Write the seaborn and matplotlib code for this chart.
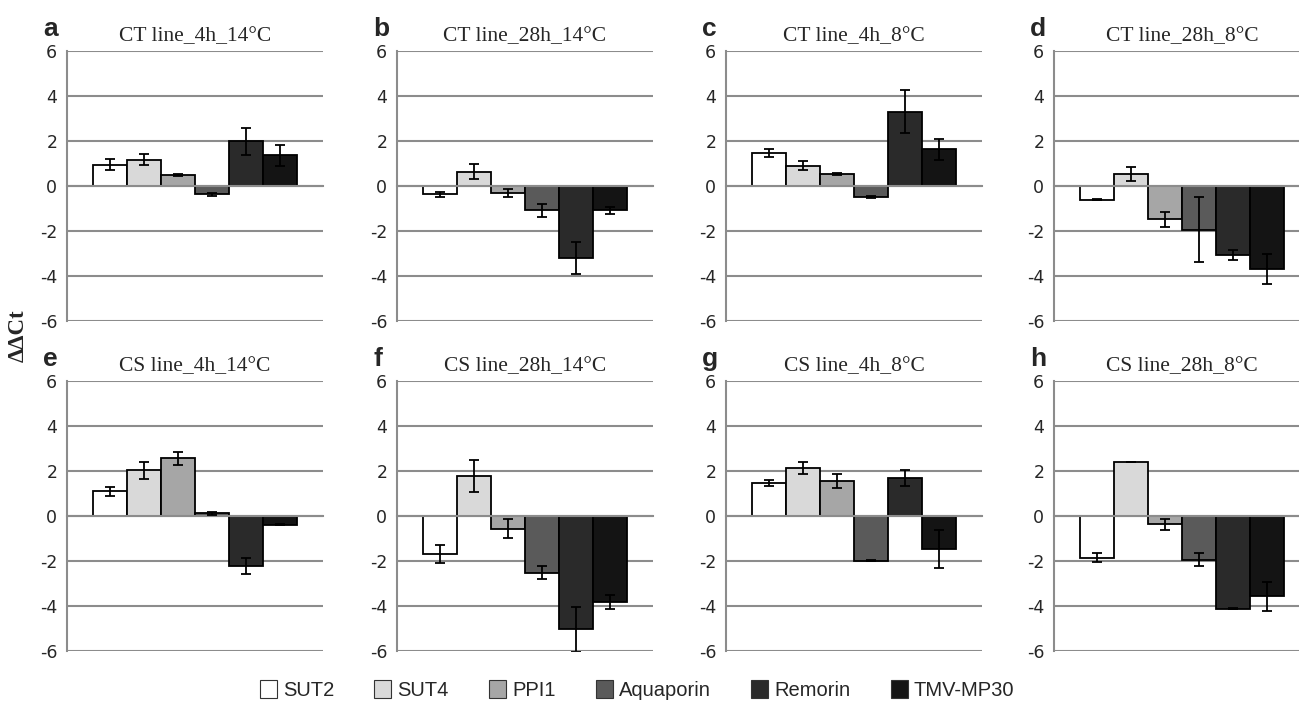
import numpy as np
import pandas as pd
import matplotlib
matplotlib.use("Agg")
import matplotlib.pyplot as plt
import seaborn as sns

# genes and colours
genes = ["SUT2", "SUT4", "PPI1", "Aquaporin", "Remorin", "TMV-MP30"]
gene_colors = ["#ffffff", "#d9d9d9", "#a6a6a6", "#5a5a5a", "#2a2a2a", "#141414"]

panel_letters = ["a", "b", "c", "d", "e", "f", "g", "h"]
panel_titles = ["CT line_4h_14°C", "CT line_28h_14°C", "CT line_4h_8°C", "CT line_28h_8°C",
                "CS line_4h_14°C", "CS line_28h_14°C", "CS line_4h_8°C", "CS line_28h_8°C"]

# ddCt means per panel (order of genes)
mean_a = [0.94, 1.17, 0.49, -0.37, 1.98, 1.37]
mean_b = [-0.37, 0.64, -0.33, -1.08, -3.20, -1.08]
mean_c = [1.45, 0.90, 0.52, -0.48, 3.30, 1.63]
mean_d = [-0.60, 0.54, -1.48, -1.94, -3.07, -3.68]
mean_e = [1.11, 2.04, 2.57, 0.13, -2.23, -0.39]
mean_f = [-1.70, 1.78, -0.56, -2.52, -5.04, -3.83]
mean_g = [1.47, 2.15, 1.55, -1.98, 1.69, -1.47]
mean_h = [-1.86, 2.40, -0.37, -1.95, -4.12, -3.57]

# error bars
err_a = [0.24, 0.25, 0.03, 0.07, 0.62, 0.46]
err_b = [0.11, 0.33, 0.18, 0.30, 0.71, 0.16]
err_c = [0.18, 0.20, 0.05, 0.04, 0.96, 0.46]
err_d = [0.04, 0.30, 0.34, 1.43, 0.22, 0.66]
err_e = [0.20, 0.38, 0.29, 0.07, 0.36, 0.02]
err_f = [0.40, 0.71, 0.42, 0.29, 1.00, 0.31]
err_g = [0.15, 0.27, 0.32, 0.02, 0.36, 0.85]
err_h = [0.20, 0.02, 0.23, 0.29, 0.01, 0.64]

means = [mean_a, mean_b, mean_c, mean_d, mean_e, mean_f, mean_g, mean_h]
errs = [err_a, err_b, err_c, err_d, err_e, err_f, err_g, err_h]

yticks = [-6, -4, -2, 0, 2, 4, 6]

sns.set_style("white")
plt.rcParams["font.family"] = ["DejaVu Sans"]

W, H = 1299, 706
fig = plt.figure(figsize=(W / 100, H / 100), dpi=100)

col_left = [67, 397, 726, 1054]
row_top = [51, 381]
ax_w, ax_h = 256, 270
grid_col = "#8c8c8c"

for i in range(8):
    r, c = divmod(i, 4)
    left, top = col_left[c], row_top[r]
    ax = fig.add_axes([left / W, 1 - (top + ax_h) / H, ax_w / W, ax_h / H])

    df = pd.DataFrame({"grp": [""] * 6, "gene": genes, "ddct": means[i]})
    sns.barplot(data=df, x="grp", y="ddct", hue="gene", hue_order=genes,
                palette=gene_colors, edgecolor="black", linewidth=1.3,
                width=0.8, gap=0, errorbar=None, legend=False, ax=ax)

    for cont, m, e in zip(ax.containers, means[i], errs[i]):
        bar = cont[0]
        xc = bar.get_x() + bar.get_width() / 2
        ax.errorbar(xc, m, yerr=e, fmt="none", ecolor="black",
                    elinewidth=1.3, capsize=3.5, capthick=1.3, zorder=5)

    ax.set_xlim(-0.5, 0.5)
    ax.set_ylim(-6, 6)
    ax.set_yticks(yticks)
    ax.set_yticklabels([str(t) for t in yticks], fontsize=12.5)
    ax.set_xticks([-0.5, 0.5])
    ax.set_xticklabels(["", ""])
    ax.tick_params(axis="x", direction="out", length=5, color=grid_col, width=1.5)
    ax.tick_params(axis="y", direction="out", length=5, color=grid_col, width=1.5, pad=2)
    ax.set_xlabel("")
    ax.set_ylabel("")
    ax.grid(axis="y", color=grid_col, linewidth=1.5, zorder=0)
    ax.set_axisbelow(True)
    for s in ["top", "right"]:
        ax.spines[s].set_visible(False)
    ax.spines["left"].set_color(grid_col)
    ax.spines["left"].set_linewidth(1.5)
    ax.spines["bottom"].set_position(("data", 0))
    ax.spines["bottom"].set_color(grid_col)
    ax.spines["bottom"].set_linewidth(1.5)

    ax.set_title(panel_titles[i], fontsize=15.5, family="Liberation Serif", pad=7)
    fig.text((left - 24) / W, 1 - (top - 22) / H, panel_letters[i],
             fontsize=19, fontweight="bold", family="Liberation Sans",
             ha="left", va="center")

fig.text(18 / W, 1 - 336 / H, "ΔΔCt", rotation=90, fontsize=16.5,
         fontweight="bold", family="Liberation Serif", ha="center", va="center")

handles = [plt.Rectangle((0, 0), 1, 1, facecolor=col, edgecolor="#333333", linewidth=0.8)
           for col in gene_colors]
fig.legend(handles, genes, loc="center", bbox_to_anchor=(637 / W, 1 - 690 / H),
           ncol=6, frameon=False, handlelength=0.85, handleheight=0.95,
           handletextpad=0.3, columnspacing=2.0,
           prop={"family": "Liberation Sans", "size": 14.5})

fig.savefig("out.png", dpi=100)
